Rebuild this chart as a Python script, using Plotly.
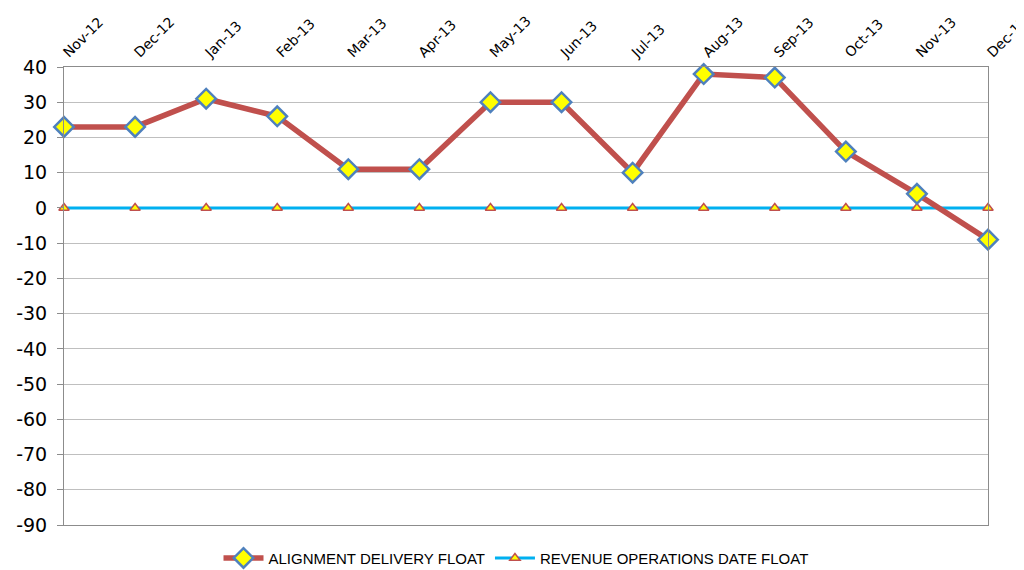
import plotly.graph_objects as go

months = ["Nov-12", "Dec-12", "Jan-13", "Feb-13", "Mar-13", "Apr-13", "May-13",
          "Jun-13", "Jul-13", "Aug-13", "Sep-13", "Oct-13", "Nov-13", "Dec-13"]
alignment_float = [23, 23, 31, 26, 11, 11, 30, 30, 10, 38, 37, 16, 4, -9]
revenue_float = [0, 0, 0, 0, 0, 0, 0, 0, 0, 0, 0, 0, 0, 0]
y_ticks = [40, 30, 20, 10, 0, -10, -20, -30, -40, -50, -60, -70, -80, -90]
y_labels = ["40", "30", "20", "10", "0", "-10", "-20", "-30", "-40", "-50",
            "-60", "-70", "-80", "-90"]

fig = go.Figure()

fig.add_trace(go.Scatter(
    x=months, y=revenue_float,
    name="REVENUE OPERATIONS DATE FLOAT",
    mode="lines+markers",
    line=dict(color="#00B0F0", width=3),
    marker=dict(symbol="triangle-up", size=9, color="#FFFF00",
                line=dict(color="#C0504D", width=1.5)),
    cliponaxis=False,
))

fig.add_trace(go.Scatter(
    x=months, y=alignment_float,
    name="ALIGNMENT DELIVERY FLOAT",
    mode="lines+markers",
    line=dict(color="#C0504D", width=5.5),
    marker=dict(symbol="diamond", size=15, color="#FFFF00",
                line=dict(color="#4F81BD", width=2.5)),
    cliponaxis=False,
))

# page body has an 8px margin, so offsets are shifted by that
fig.update_layout(
    width=1016, height=562,
    margin=dict(l=56, r=36, t=59, b=45),
    paper_bgcolor="white", plot_bgcolor="white",
    showlegend=True,
    legend=dict(orientation="h", x=0.5, xanchor="center", xref="container",
                y=0.021, yanchor="middle", yref="container",
                traceorder="reversed", itemwidth=40,
                font=dict(family="Liberation Sans Narrow, Arial Narrow, sans-serif",
                          size=15, color="#000000")),
    xaxis=dict(
        type="category", side="top", range=[0, 13], automargin=False,
        tickangle=-45, showgrid=False, ticks="",
        showline=True, linecolor="#8C8C8C", linewidth=1, mirror=True,
        tickfont=dict(family="DejaVu Sans, Verdana, sans-serif", size=14, color="#000000"),
        zeroline=False,
    ),
    yaxis=dict(
        range=[-90, 40], tickmode="array", tickvals=y_ticks, ticktext=y_labels,
        automargin=False,
        showgrid=True, gridcolor="#BFBFBF", gridwidth=1,
        showline=True, linecolor="#8C8C8C", linewidth=1, mirror=True,
        ticks="outside", ticklen=6, tickcolor="#8C8C8C", ticklabelstandoff=6,
        tickfont=dict(family="DejaVu Sans, Verdana, sans-serif", size=19, color="#000000"),
        zeroline=False,
    ),
)

fig.write_html("out.html")
